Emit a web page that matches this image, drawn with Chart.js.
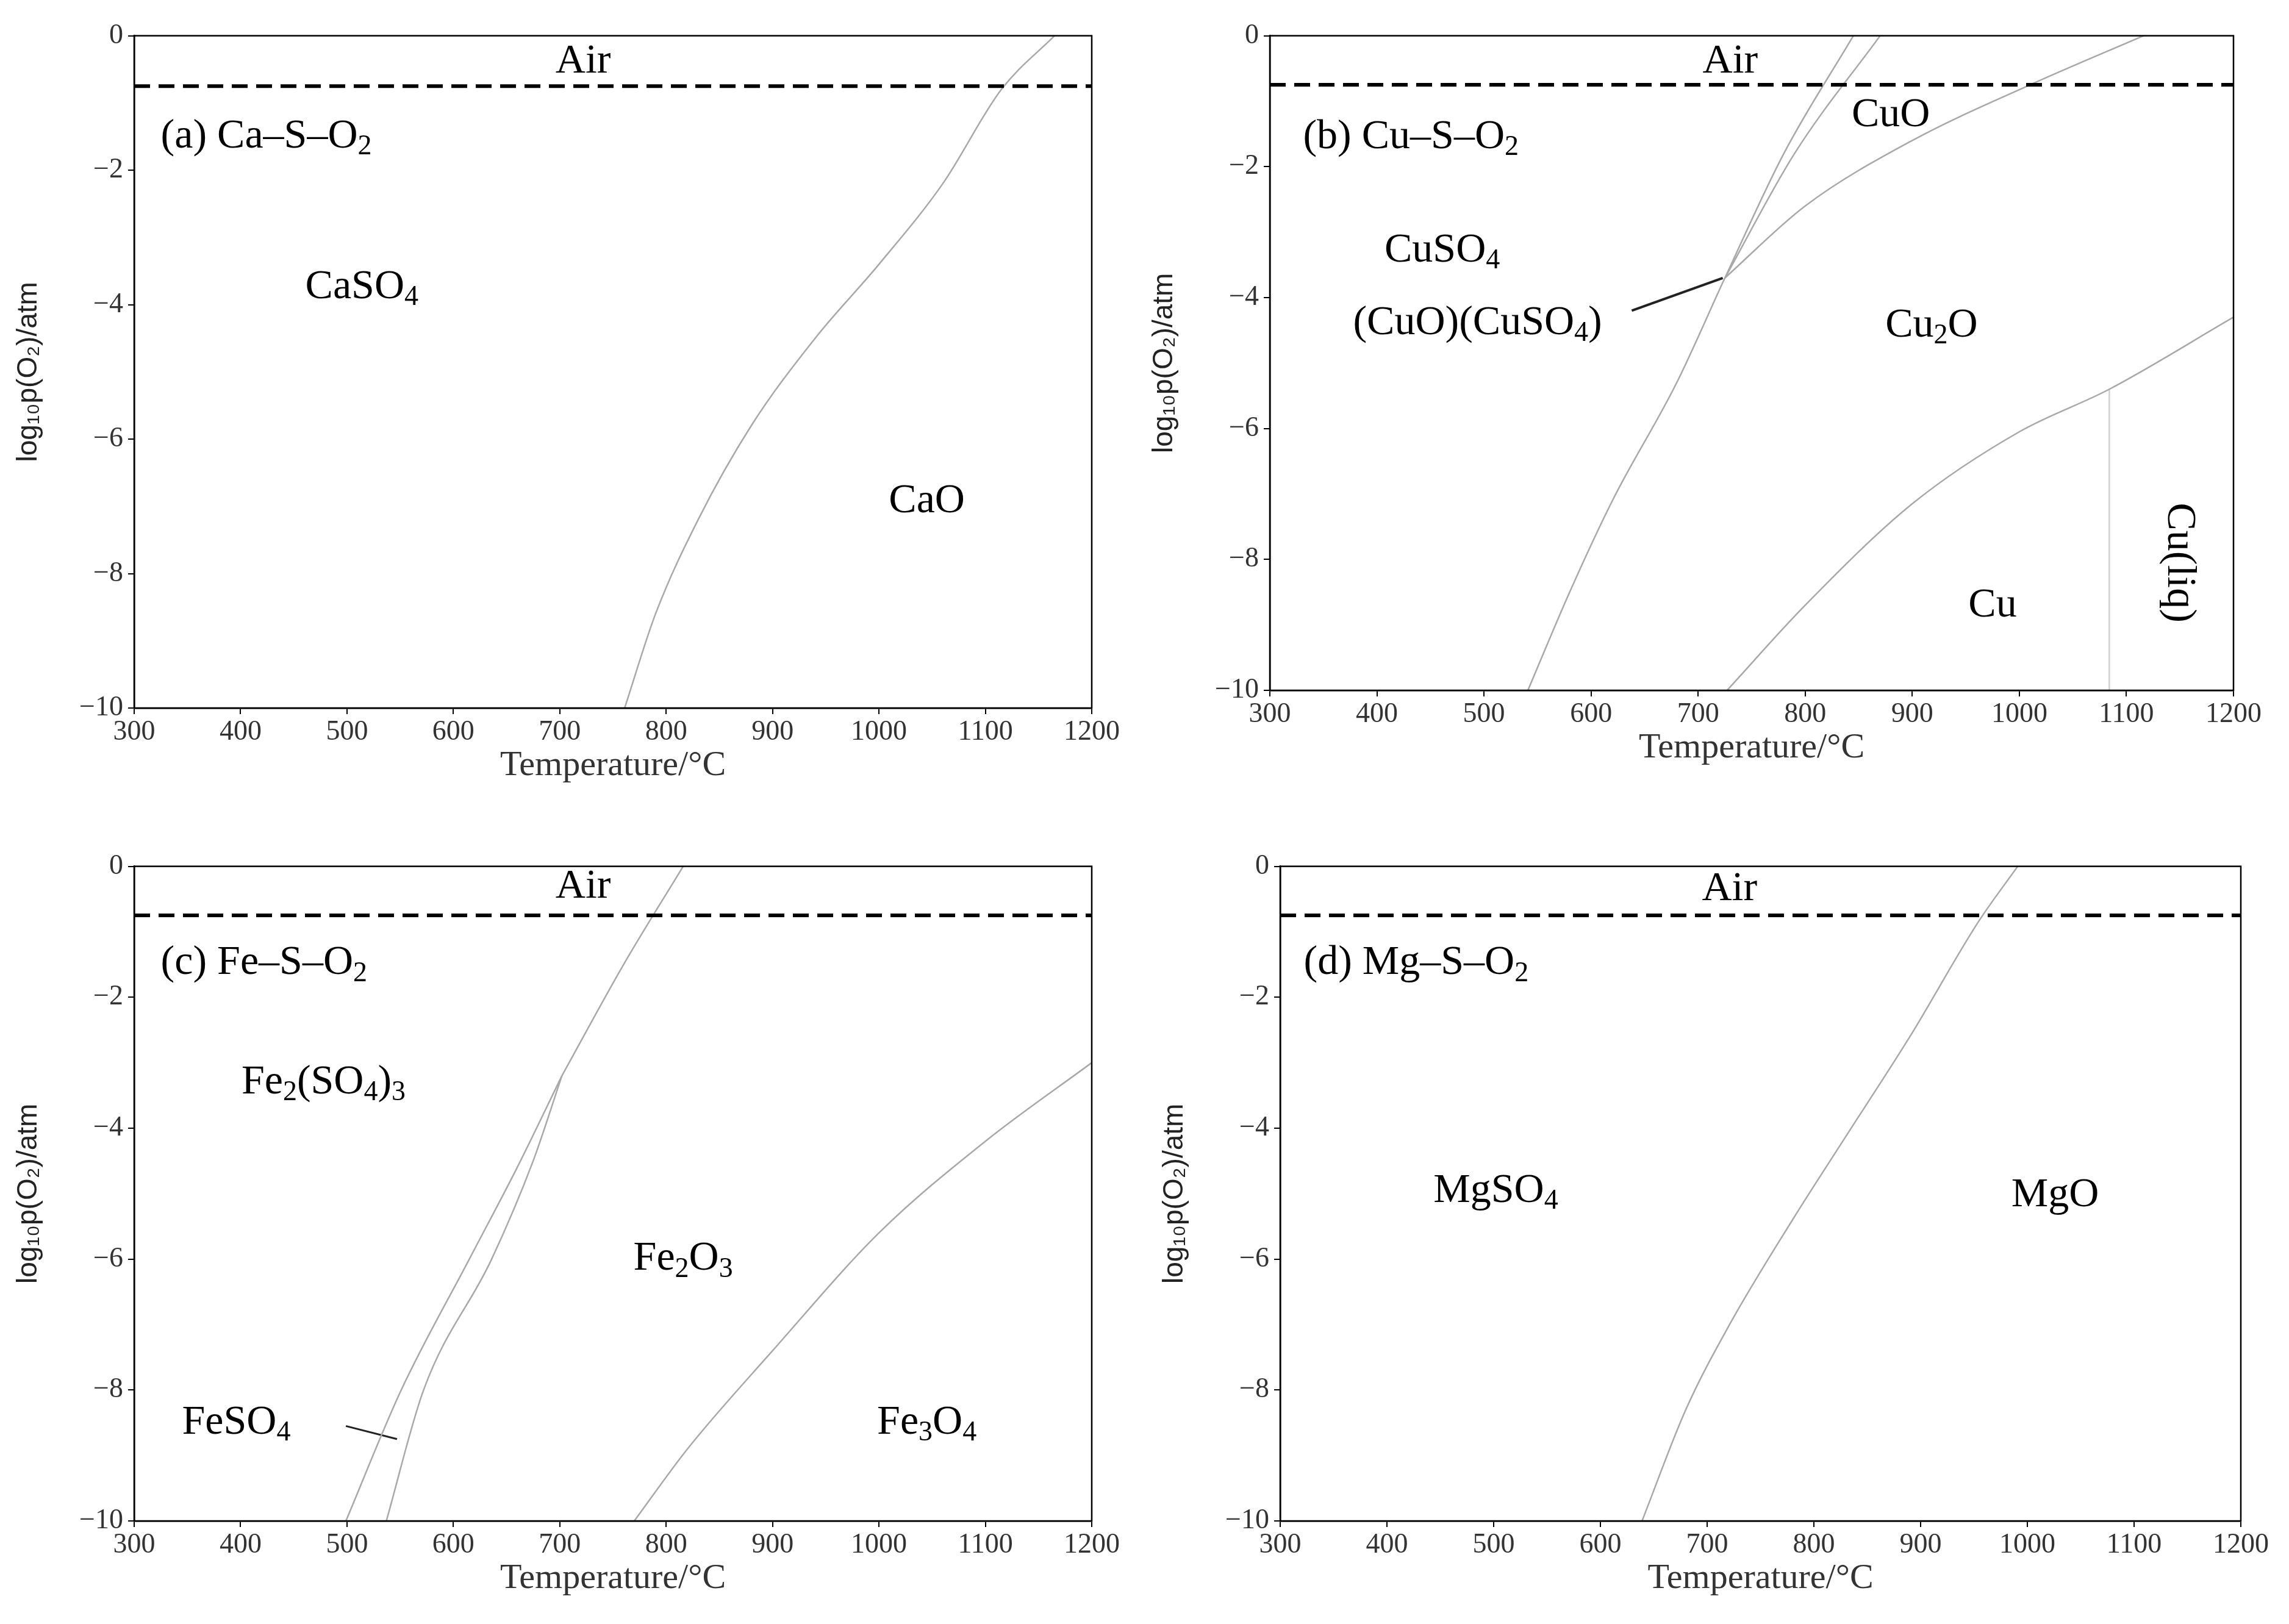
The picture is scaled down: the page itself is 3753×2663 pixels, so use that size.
<!DOCTYPE html>
<html>
<head>
<meta charset="utf-8">
<script src="https://cdn.jsdelivr.net/npm/chart.js@4.4.1/dist/chart.umd.min.js"></script>
<style>
  body { margin: 0; background: #fff; width: 3753px; height: 2663px; position: relative; overflow: hidden; }
  canvas { position: absolute; }
</style>
</head>
<body>
<canvas id="pa"></canvas>
<canvas id="pb"></canvas>
<canvas id="pc"></canvas>
<canvas id="pd"></canvas>
<script>
// Tick labels
const X_TICKS = [300, 400, 500, 600, 700, 800, 900, 1000, 1100, 1200];
const Y_TICKS = [0, -2, -4, -6, -8, -10];
const AIR_LEVEL = -0.75;

// (a) Ca-S-O2 boundary
const caT = [761, 790, 830, 880, 940, 1000, 1060, 1115, 1165];
const caP = [-10, -8.6, -7.2, -5.8, -4.5, -3.4, -2.2, -0.8, 0];

// (b) Cu-S-O2 boundaries
const cuSulfT = [541, 580, 620, 680, 725, 780, 845];
const cuSulfP = [-10, -8.5, -7.1, -5.3, -3.7, -1.8, 0];
const cuBasicT = [725, 790, 870];
const cuBasicP = [-3.7, -1.8, 0];
const cuOxT = [725, 800, 900, 1010, 1116];
const cuOxP = [-3.7, -2.6, -1.6, -0.75, 0];
const cuTickT = [638, 723];
const cuTickP = [-4.2, -3.7];
const cuMetT = [727, 800, 900, 1000, 1084, 1200];
const cuMetP = [-10, -8.7, -7.15, -6.05, -5.4, -4.3];
const cuMeltT = [1084, 1084];
const cuMeltP = [-5.4, -10];

// (c) Fe-S-O2 boundaries
const feLeftT = [499, 551, 615, 660, 702];
const feLeftP = [-10, -8, -6, -4.6, -3.2];
const feRightT = [537, 572, 636, 675, 702];
const feRightP = [-10, -8, -6, -4.5, -3.2];
const feTopT = [702, 760, 816];
const feTopP = [-3.2, -1.5, 0];
const feOxT = [770, 820, 900, 1000, 1100, 1200];
const feOxP = [-10, -8.9, -7.4, -5.6, -4.2, -3.0];
const feTickT = [499, 547];
const feTickP = [-8.55, -8.75];

// (d) Mg-S-O2 boundary
const mgT = [639, 680, 721, 780, 831, 890, 954, 991];
const mgP = [-10, -8.3, -7, -5.4, -4.1, -2.6, -0.85, 0];

// Region labels: [text, T, logp, align, rotate]
const labelsA = [['Air', 722, -0.39], ['(a) Ca–S–O_2', 325, -1.5, 'left'], ['CaSO_4', 514, -3.74], ['CaO', 1045, -6.93]];
const labelsB = [['Air', 730, -0.4], ['(b) Cu–S–O_2', 331, -1.55, 'left'], ['CuO', 880, -1.22], ['CuSO_4', 461, -3.28],
  ['(CuO)(CuSO_4)', 494, -4.39], ['Cu_2O', 918, -4.43], ['Cu', 975, -8.71], ['Cu(liq)', 1149, -8.05, 'center', true]];
const labelsC = [['Air', 722, -0.31], ['(c) Fe–S–O_2', 325, -1.48, 'left'], ['Fe_2(SO_4)_3', 478, -3.3],
  ['Fe_2O_3', 816, -6.0], ['FeSO_4', 396, -8.5], ['Fe_3O_4', 1045, -8.5]];
const labelsD = [['Air', 721, -0.35], ['(d) Mg–S–O_2', 322, -1.48, 'left'], ['MgSO_4', 502, -4.96], ['MgO', 1026, -5.03]];

const GREY = '#a8a8a8';
const FONT = 68;

function pts(ts, ps) { return ts.map((t, i) => ({ x: t, y: ps[i] })); }

function line(ts, ps, color, width) {
    return { data: pts(ts, ps), showLine: true, borderColor: color || GREY, borderWidth: width || 2.5,
             pointRadius: 0, cubicInterpolationMode: 'monotone' };
}

// Text with "_" subscripts
function drawRich(ctx, text, x, y, align) {
    const parts = [];
    for (let i = 0; i < text.length; i++) {
        if (text[i] === '_') { parts.push({ s: text[++i], sub: true }); }
        else parts.push({ s: text[i], sub: false });
    }
    const big = FONT + 'px "Liberation Serif"';
    const small = Math.round(FONT * 0.68) + 'px "Liberation Serif"';
    let w = 0;
    parts.forEach(p => { ctx.font = p.sub ? small : big; p.w = ctx.measureText(p.s).width; w += p.w; });
    let cx = align === 'left' ? x : x - w / 2;
    ctx.fillStyle = '#000';
    ctx.textAlign = 'left';
    ctx.textBaseline = 'middle';
    parts.forEach(p => {
        ctx.font = p.sub ? small : big;
        ctx.fillText(p.s, cx, p.sub ? y + FONT * 0.25 : y);
        cx += p.w;
    });
}

const decor = {
    id: 'decor',
    afterDatasetsDraw(chart, args, opts) {
        const { ctx, chartArea: a, scales: { x, y } } = chart;
        ctx.save();
        // Air level
        ctx.strokeStyle = '#000';
        ctx.lineWidth = 6;
        ctx.setLineDash([26, 14]);
        ctx.beginPath();
        ctx.moveTo(a.left, y.getPixelForValue(AIR_LEVEL));
        ctx.lineTo(a.right, y.getPixelForValue(AIR_LEVEL));
        ctx.stroke();
        ctx.setLineDash([]);
        ctx.lineWidth = 2.5;
        ctx.strokeRect(a.left, a.top, a.right - a.left, a.bottom - a.top);
        opts.labels.forEach(l => {
            const px = x.getPixelForValue(l[1]), py = y.getPixelForValue(l[2]);
            if (l[4]) {
                ctx.save();
                ctx.translate(px, py);
                ctx.rotate(Math.PI / 2);
                drawRich(ctx, l[0], 0, 0, 'center');
                ctx.restore();
            } else drawRich(ctx, l[0], px, py, l[3]);
        });
        ctx.restore();
    }
};

function makePanel(id, plot, datasets, labels) {
    const [L, R, T, B] = plot;
    const padTop = 30, padRight = 60, yw = 200, xh = 130;
    const c = document.getElementById(id);
    const W = R - L + yw + padRight, H = B - T + padTop + xh;
    c.style.left = (L - yw) + 'px';
    c.style.top = (T - padTop) + 'px';
    c.style.width = W + 'px';
    c.style.height = H + 'px';
    c.width = W; c.height = H;
    new Chart(c, {
        type: 'scatter',
        data: { datasets },
        options: {
            responsive: false,
            animation: false,
            layout: { padding: { top: padTop, right: padRight, left: 0, bottom: 0 } },
            plugins: { legend: { display: false }, tooltip: { enabled: false }, decor: { labels } },
            scales: {
                x: {
                    min: 300, max: 1200,
                    afterBuildTicks: s => { s.ticks = X_TICKS.map(v => ({ value: v })); },
                    afterFit: s => { s.height = xh; },
                    grid: { drawOnChartArea: false, tickLength: 10, color: '#000', lineWidth: 2 },
                    border: { color: '#000', width: 2.5 },
                    ticks: { color: '#333', font: { family: 'Liberation Serif', size: 46 }, padding: 2, callback: v => String(v) },
                    title: { display: true, text: 'Temperature/°C', color: '#333', padding: 0, font: { family: 'Liberation Serif', size: 58 } }
                },
                y: {
                    min: -10, max: 0,
                    afterBuildTicks: s => { s.ticks = Y_TICKS.map(v => ({ value: v })); },
                    afterFit: s => { s.width = yw; },
                    grid: { drawOnChartArea: false, tickLength: 10, color: '#000', lineWidth: 2 },
                    border: { color: '#000', width: 2.5 },
                    ticks: { color: '#333', font: { family: 'Liberation Serif', size: 46 }, padding: 8, callback: v => String(v).replace('-', '−') },
                    title: { display: true, text: 'log₁₀p(O₂)/atm', color: '#222', padding: 0, font: { family: 'Liberation Sans', size: 46 } }
                }
            }
        },
        plugins: [decor]
    });
}

makePanel('pa', [220, 1790, 53, 1161], [line(caT, caP)], labelsA);
makePanel('pb', [2082, 3662, 53, 1132], [
    line(cuSulfT, cuSulfP), line(cuBasicT, cuBasicP), line(cuOxT, cuOxP),
    line(cuTickT, cuTickP, '#222', 4), line(cuMetT, cuMetP), line(cuMeltT, cuMeltP, '#d0d0d0', 2.5)
], labelsB);
makePanel('pc', [220, 1790, 1415, 2494], [
    line(feLeftT, feLeftP), line(feRightT, feRightP), line(feTopT, feTopP),
    line(feOxT, feOxP), line(feTickT, feTickP, '#222', 3)
], labelsC);
makePanel('pd', [2099, 3674, 1415, 2494], [line(mgT, mgP)], labelsD);
</script>
</body>
</html>
